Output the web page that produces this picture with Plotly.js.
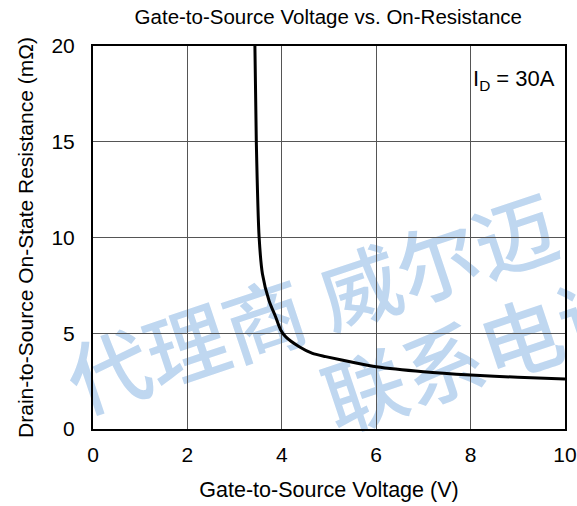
<!DOCTYPE html>
<html>
<head>
<meta charset="utf-8">
<script src="https://cdn.plot.ly/plotly-3.0.1.min.js"></script>
<style>html,body{margin:0;padding:0;background:#fff}#chart{width:577px;height:506px}</style>
</head>
<body>
<div id="chart"></div>
<script>
// Data
const vgs = [3.43, 3.46, 3.52, 3.59, 3.73, 3.87, 3.97, 4.09, 4.37, 4.65, 4.93, 5.6, 6.0, 7.0, 8.0, 9.0, 10.0];
const rdson = [20, 15, 10, 8.1, 6.7, 5.85, 5.2, 4.8, 4.3, 3.95, 3.78, 3.43, 3.25, 2.99, 2.82, 2.7, 2.61];
const xTicks = [0, 2, 4, 6, 8, 10];
const yTicks = [0, 5, 10, 15, 20];
const chartTitle = "Gate-to-Source Voltage vs. On-Resistance";
const xTitle = "Gate-to-Source Voltage (V)";
const yTitle = "Drain-to-Source On-State Resistance (mΩ)";
const condition = "I<sub>D</sub> = 30A";
const watermark1 = "代理商 威尔迈";
const watermark2 = "联系电话";

const font = "Liberation Sans, Arial, sans-serif";
const wmFont = "Noto Sans CJK SC, sans-serif";
const wmColor = "#bfd7f0";

const trace = {
  x: vgs, y: rdson, type: "scatter", mode: "lines",
  line: {color: "#000", width: 3, shape: "spline", smoothing: 0.7},
  hoverinfo: "skip"
};

function wmShape(text, cx, cy) {
  return {
    type: "line", xref: "paper", yref: "paper", layer: "below",
    x0: cx - 0.05, x1: cx + 0.05, y0: cy - 0.02, y1: cy + 0.02,
    line: {width: 0, color: "rgba(0,0,0,0)"},
    label: {text: text, textposition: "middle", textangle: -18.5,
            xanchor: "center", yanchor: "middle",
            font: {family: wmFont, size: 82, color: wmColor, weight: 500}}
  };
}

const layout = {
  width: 577, height: 506,
  margin: {l: 93, r: 12, t: 46, b: 77},
  paper_bgcolor: "#fff", plot_bgcolor: "rgba(0,0,0,0)",
  showlegend: false,
  font: {family: font, color: "#000", size: 21},
  title: {text: chartTitle, font: {family: font, size: 20.5, color: "#000"}, x: 0.569, xanchor: "center", y: 0.966, yanchor: "middle"},
  xaxis: {
    range: [0, 10], tickvals: xTicks, ticktext: xTicks.map(String),
    showgrid: true, gridcolor: "#555", gridwidth: 1,
    showline: true, linecolor: "#000", linewidth: 2, mirror: true,
    ticks: "", zeroline: false, fixedrange: true, ticklabelstandoff: 6,
    tickfont: {family: font, size: 21, color: "#000"},
    title: {text: xTitle, font: {family: font, size: 21.5, color: "#000"}, standoff: 17}
  },
  yaxis: {
    range: [0, 20], tickvals: yTicks, ticktext: yTicks.map(String),
    showgrid: true, gridcolor: "#555", gridwidth: 1,
    showline: true, linecolor: "#000", linewidth: 2, mirror: true,
    ticks: "", zeroline: false, fixedrange: true, ticklabelstandoff: 12,
    tickfont: {family: font, size: 21, color: "#000"},
    title: {text: yTitle, font: {family: font, size: 21, color: "#000"}, standoff: 12}
  },
  shapes: [
    wmShape(watermark1, 0.47, 0.305),
    wmShape(watermark2, 0.83, 0.18)
  ],
  annotations: [
    {xref: "x", yref: "y", x: 8.0, y: 18.2, xanchor: "left", yanchor: "middle", showarrow: false,
     text: condition, font: {family: font, size: 22, color: "#000"}}
  ]
};

Plotly.newPlot("chart", [trace], layout, {displayModeBar: false, staticPlot: true});
</script>
</body>
</html>
